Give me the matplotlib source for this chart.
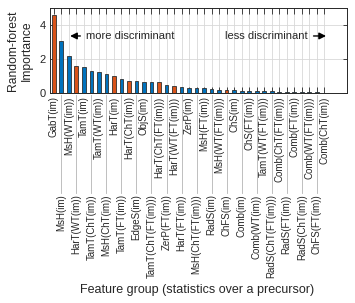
import matplotlib
matplotlib.use("Agg")
import matplotlib.pyplot as plt
import matplotlib.transforms as mtransforms
import numpy as np

plt.rcParams['font.family'] = ['Liberation Sans', 'DejaVu Sans']

# feature groups, sorted by importance
labels = ["GabT(im)", "MsH(im)", "MsH(WT(im))", "HarT(WT(im))", "TamT(im)",
          "TamT(ChT(im))", "TamT(WT(im))", "MsH(ChT(im))", "HarT(im)",
          "TamT(FT(im))", "HarT(ChT(im))", "EdgeS(im)", "ObjS(im)",
          "TamT(ChT(FT(im)))", "HarT(ChT(FT(im)))", "ZerP(FT(im))",
          "HarT(WT(FT(im)))", "HarT(FT(im))", "ZerP(im)", "MsH(ChT(FT(im)))",
          "MsH(FT(im))", "RadS(im)", "MsH(WT(FT(im)))", "ChFS(im)", "ChS(im)",
          "Comb(im)", "ChS(FT(im))", "Comb(WT(im))", "TamT(WT(FT(im)))",
          "RadS(ChT(FT(im)))", "Comb(ChT(FT(im)))", "RadS(FT(im))",
          "Comb(FT(im))", "RadS(ChT(im))", "Comb(WT(FT(im)))", "ChFS(FT(im))",
          "Comb(ChT(im))"]
importance = [4.58, 3.08, 2.18, 1.58, 1.52, 1.31, 1.23, 1.11, 0.99, 0.84,
              0.72, 0.72, 0.65, 0.64, 0.62, 0.47, 0.39, 0.35, 0.31, 0.31,
              0.27, 0.25, 0.19, 0.19, 0.17, 0.14, 0.13, 0.12, 0.11, 0.10,
              0.08, 0.07, 0.07, 0.05, 0.05, 0.04, 0.02]
# 1 = texture-type group (orange), 0 = other (blue)
group = [1, 0, 0, 1, 0, 0, 0, 0, 1, 0, 1, 0, 0, 0, 1, 0, 1, 0, 0, 0,
         0, 0, 0, 1, 0, 0, 0, 0, 0, 0, 0, 0, 0, 0, 0, 0, 0]

blue = '#0072BD'
orange = '#D95319'
colors = [orange if g else blue for g in group]

x = np.arange(1, len(labels) + 1)

fig = plt.figure(figsize=(3.55, 3.03), dpi=100)
ax = fig.add_axes([0.141, 0.693, 0.836, 0.281])

ax.bar(x, importance, 0.5, color=colors, edgecolor='#303030', linewidth=0.6, zorder=2)

ax.set_xlim(0.5, 40)
ax.set_ylim(0, 5)
ax.set_yticks([0, 2, 4])
ax.set_xticks(x)
ax.set_xticklabels([])
ax.grid(True, color='#d8d8d8', linewidth=0.6, zorder=0)
ax.set_axisbelow(True)
ax.tick_params(axis='x', direction='in', length=4.5, width=0.6, top=True,
               color='#262626')
ax.tick_params(axis='y', direction='in', length=3, width=0.6, right=True,
               labelsize=8, color='#262626', labelcolor='#262626', pad=3)
for s in ax.spines.values():
    s.set_color('#262626')
    s.set_linewidth(0.7)

# alternating tick labels with leader lines for the lower row
trans = mtransforms.blended_transform_factory(ax.transData, ax.transAxes)
for i, lab in enumerate(labels):
    if i % 2 == 0:
        ax.text(x[i], -0.04, lab, transform=trans, rotation=90, ha='center',
                va='top', fontsize=7, color='#262626')
    else:
        ax.plot([x[i], x[i]], [-0.02, -1.17], transform=trans, clip_on=False,
                color='#b4b4b4', linewidth=0.6)
        ax.text(x[i], -1.19, lab, transform=trans, rotation=90, ha='center',
                va='top', fontsize=7, color='#262626')

ax.set_ylabel('Random-forest\nImportance', fontsize=8.7, color='#262626',
              labelpad=5, linespacing=1.15)
fig.text(0.555, 0.043, 'Feature group (statistics over a precursor)',
         ha='center', va='center', fontsize=9, color='#262626')

ax.annotate('', xy=(2.8, 3.35), xytext=(4.9, 3.35),
            arrowprops=dict(arrowstyle='-|>', color='black', lw=1,
                            mutation_scale=10))
ax.text(5.3, 3.35, 'more discriminant', fontsize=8, va='center',
        color='#262626')
ax.text(34.8, 3.35, 'less discriminant', fontsize=8, va='center',
        ha='right', color='#262626')
ax.annotate('', xy=(37.6, 3.35), xytext=(35.2, 3.35),
            arrowprops=dict(arrowstyle='-|>', color='black', lw=1,
                            mutation_scale=10))

fig.savefig('out.png', dpi=100)
